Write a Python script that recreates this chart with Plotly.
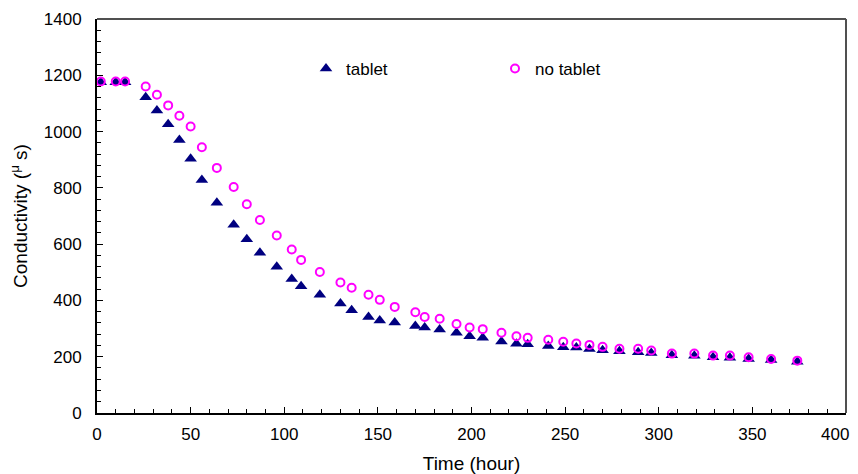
import plotly.graph_objects as go

time_h = [2, 10, 15, 26, 32, 38, 44, 50, 56, 64, 73, 80, 87, 96, 104, 109, 119, 130, 136,
          145, 151, 159, 170, 175, 183, 192, 199, 206, 216, 224, 230, 241, 249, 256, 263,
          270, 279, 289, 296, 307, 319, 329, 338, 348, 360, 374]

tablet = [1175, 1175, 1175, 1122, 1075, 1026, 970, 903, 828, 747, 669, 617, 569, 520, 476,
          450, 420, 389, 365, 341, 329, 322, 309, 304, 297, 285, 273, 267, 254, 246, 244,
          238, 234, 233, 227, 223, 219, 216, 213, 205, 203, 198, 196, 192, 188, 182]

no_tablet = [1178, 1178, 1178, 1160, 1131, 1093, 1056, 1018, 944, 871, 803, 742, 686, 631,
             581, 544, 501, 464, 445, 420, 402, 377, 358, 341, 335, 316, 304, 298, 285, 273,
             267, 260, 253, 247, 242, 235, 228, 228, 222, 211, 211, 204, 204, 198, 192, 186]

x_ticks = [0, 50, 100, 150, 200, 250, 300, 350]
x_last_tick = 400
y_ticks = [0, 200, 400, 600, 800, 1000, 1200, 1400]

FONT = "Liberation Sans, Arial, sans-serif"

fig = go.Figure()
fig.add_trace(go.Scatter(
    x=time_h, y=tablet, mode="markers", name="tablet", legend="legend",
    marker=dict(symbol="triangle-up", size=11, color="#000080", line=dict(width=0)),
))
fig.add_trace(go.Scatter(
    x=time_h, y=no_tablet, mode="markers", name="no tablet", legend="legend2",
    marker=dict(symbol="circle-open", size=8, color="#FF00FF", line=dict(width=2, color="#FF00FF")),
))

axis_common = dict(
    showgrid=False, zeroline=False, showline=True, linecolor="black", linewidth=2,
    ticks="inside", tickcolor="black", tickwidth=1, ticklen=6,
    tickfont=dict(family=FONT, size=17, color="black"),
    automargin=False,
)

fig.update_xaxes(
    range=[0, 400], tickvals=x_ticks + [x_last_tick],
    ticktext=[str(v) for v in x_ticks] + [""],
    minor=dict(dtick=10, ticks="inside", ticklen=4, tickcolor="black", tickwidth=1),
    title=dict(text="Time (hour)", font=dict(family=FONT, size=19, color="black"), standoff=14),
    ticklabelstandoff=5,
    **axis_common,
)
fig.update_yaxes(
    range=[0, 1400], tickvals=y_ticks, ticktext=[str(v) for v in y_ticks],
    minor=dict(dtick=40, ticks="inside", ticklen=4, tickcolor="black", tickwidth=1),
    title=dict(text="Conductivity (<sup>μ</sup> s)", font=dict(family=FONT, size=19, color="black"), standoff=11),
    ticklabelstandoff=10,
    **axis_common,
)

# last x tick label, pulled slightly left so it stays inside the figure
fig.add_annotation(
    x=x_last_tick, y=0, xref="x", yref="y", text=str(x_last_tick), showarrow=False,
    xanchor="center", yanchor="middle", xshift=-11, yshift=-21,
    font=dict(family=FONT, size=17, color="black"),
)

# top and right frame lines (grey)
fig.add_shape(type="line", xref="paper", yref="paper", x0=0, y0=1, x1=1, y1=1,
              line=dict(color="#505050", width=2))
fig.add_shape(type="line", xref="paper", yref="paper", x0=1, y0=0, x1=1, y1=1,
              line=dict(color="#505050", width=2))

legend_common = dict(
    orientation="h", xanchor="left", yanchor="middle", bgcolor="rgba(0,0,0,0)",
    font=dict(family=FONT, size=17, color="black"), borderwidth=0, itemwidth=30,
)

fig.update_layout(
    width=858, height=474,
    margin=dict(l=97, r=12, t=19, b=61, autoexpand=False),
    paper_bgcolor="white", plot_bgcolor="white",
    showlegend=True,
    legend=dict(x=(306 - 97) / 749, y=(412.7 - 69) / 393.7, **legend_common),
    legend2=dict(x=(495 - 97) / 749, y=(412.7 - 69) / 393.7, **legend_common),
)

fig.write_html("out.html")
